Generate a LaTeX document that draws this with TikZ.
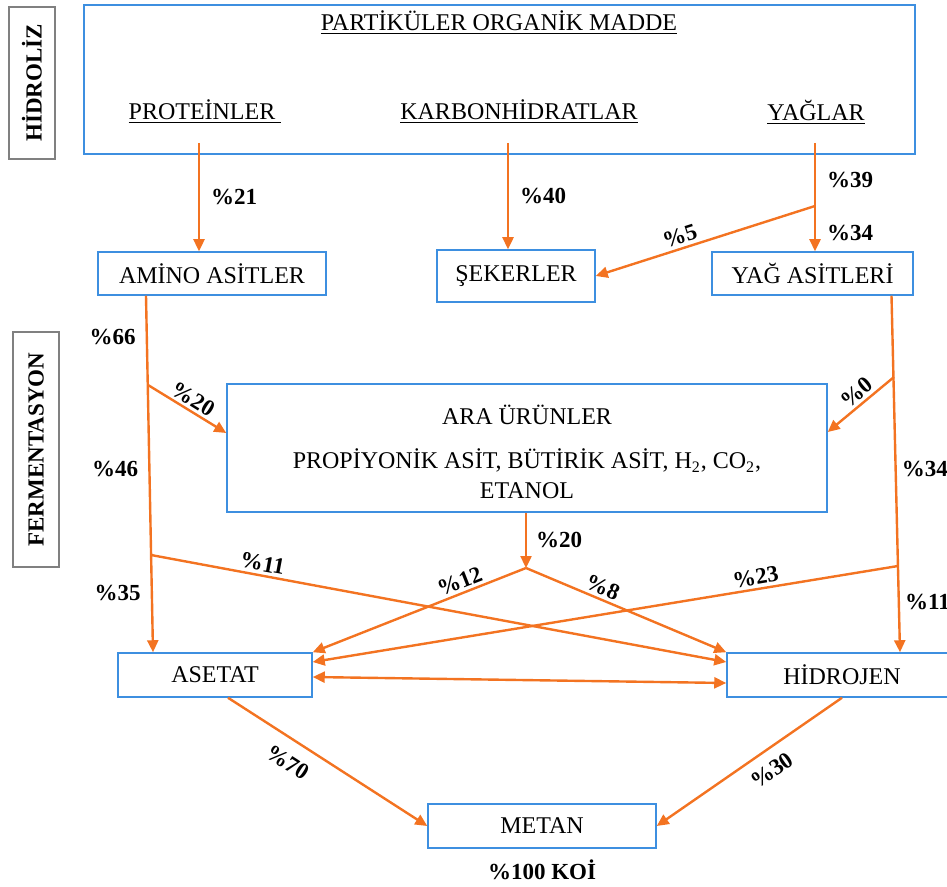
\documentclass[tikz,border=0pt]{standalone}
\usepackage{fontspec}
\setmainfont{Liberation Serif}
\usepackage{tikz}
\usetikzlibrary{positioning,arrows.meta,calc}
\usepackage{xcolor}
\definecolor{boxblue}{HTML}{3D8FE0}
\definecolor{arrorange}{HTML}{F37321}
\definecolor{sidegray}{HTML}{808080}
\newcommand{\diagFont}{\fontsize{12}{15}\selectfont}
\newcommand{\labelFont}{\fontsize{11.5}{13}\selectfont\bfseries}

\begin{document}
\begin{tikzpicture}[
    x=0.5pt, y=-0.5pt,
    boxStyle/.style={
        rectangle, draw=boxblue, line width=0.75pt, inner sep=0pt, font=\diagFont
    },
    sideStyle/.style={
        rectangle, draw=sidegray, line width=0.9pt, inner sep=0pt, rotate=90, font=\labelFont
    },
    headStyle/.style={inner sep=1pt, font=\diagFont},
    labelStyle/.style={inner sep=1.5pt, font=\labelFont},
    arrowStyle/.style={-{Triangle[length=6pt,width=5.5pt]}, line width=1.2pt, draw=arrorange},
    biArrowStyle/.style={arrowStyle, {Triangle[length=6pt,width=5.5pt]}-{Triangle[length=6pt,width=5.5pt]}}
]
    \useasboundingbox (0,0) rectangle (947,887);
    \clip (0,0) rectangle (947,887);

    % Side titles
    \node[sideStyle, minimum width=76pt, minimum height=23pt] (hidroliz) at (32,83) {HİDROLİZ};
    \node[sideStyle, minimum width=117.5pt, minimum height=23pt] (ferment) at (36,449.5) {FERMENTASYON};

    % Hydrolysis
    \node[boxStyle, minimum width=415.5pt, minimum height=74.5pt] (organik) at (499.5,79.5) {};
    \node[headStyle] (baslik) at (499,23) {\underline{PARTİKÜLER ORGANİK MADDE}};
    \node[headStyle] (protein) at (205,112) {\underline{PROTEİNLER\ }};
    \node[headStyle] (karbon) at (519,112) {\underline{KARBONHİDRATLAR}};
    \node[headStyle] (yaglar) at (816,112) {\underline{YAĞLAR}};

    \node[boxStyle, minimum width=114pt, minimum height=21.5pt] (amino) at (212,273.5) {AMİNO ASİTLER};
    \node[boxStyle, minimum width=79pt, minimum height=26pt] (seker) at (516,276) {ŞEKERLER};
    \node[boxStyle, minimum width=100.5pt, minimum height=21.5pt] (yagas) at (812.5,273.5) {YAĞ ASİTLERİ};

    % Fermentation
    \node[boxStyle, minimum width=300pt, minimum height=64pt, align=center] (ara) at (527,448) {
        \rule{0pt}{14pt}ARA ÜRÜNLER\\[7pt]
        PROPİYONİK ASİT, BÜTİRİK ASİT, H\textsubscript{2}, CO\textsubscript{2},\\
        ETANOL
    };
    \node[boxStyle, minimum width=97pt, minimum height=22pt] (asetat) at (215,675) {ASETAT};
    \node[boxStyle, minimum width=115pt, minimum height=22pt] (hid) at (842,675) {HİDROJEN};
    \node[boxStyle, minimum width=114pt, minimum height=22pt] (metan) at (542,826) {METAN};
    \node[labelStyle, below=4pt of metan] (koi) {\%100 KOİ};

    % Junctions
    \coordinate (pOut) at (199,143);
    \coordinate (kOut) at (508,143);
    \coordinate (yOut) at (815,143);
    \coordinate (ySplit) at (815,206);
    \coordinate (aSplit1) at (148,385);
    \coordinate (aSplit2) at (151,555);
    \coordinate (araJ) at (526,568);
    \coordinate (yaSplit1) at (894,377);
    \coordinate (yaSplit2) at (898,566);

    % Arrows
    \draw[arrowStyle] (pOut) -- node[labelStyle, right=4pt] {\%21} (pOut |- amino.north);
    \draw[arrowStyle] (kOut) -- node[labelStyle, right=4pt] {\%40} (kOut |- seker.north);
    \draw[arrowStyle] (yOut) -- node[labelStyle, pos=0.34, right=4pt] {\%39}
        node[labelStyle, pos=0.83, right=4pt] {\%34} (yOut |- yagas.north);
    \draw[arrowStyle] (ySplit) -- node[labelStyle, pos=0.6, sloped, above] {\%5} (seker.east);

    \draw[arrowStyle] ([xshift=-33pt]amino.south) -- node[labelStyle, pos=0.115, left=3.5pt] {\%66}
        node[labelStyle, pos=0.485, left=3.5pt] {\%46}
        node[labelStyle, pos=0.834, left=3.5pt] {\%35} ([xshift=-31pt]asetat.north);
    \draw[arrowStyle] (aSplit1) -- node[labelStyle, sloped, above] {\%20} ([yshift=7.5pt]ara.west);
    \draw[arrowStyle] (aSplit2) -- node[labelStyle, pos=0.19, sloped, above] {\%11} ([yshift=6.5pt]hid.west);

    \draw[arrowStyle] ([xshift=-0.5pt]ara.south) -- node[labelStyle, right=3pt] {\%20} (araJ);
    \draw[arrowStyle] (araJ) -- node[labelStyle, pos=0.29, sloped, above] {\%12} (asetat.north east);
    \draw[arrowStyle] (araJ) -- node[labelStyle, pos=0.36, sloped, above] {\%8} (hid.north west);

    \draw[arrowStyle] ([xshift=39.5pt]yagas.south) -- node[labelStyle, pos=0.485, right=1pt] {\%34}
        node[labelStyle, pos=0.86, right=1pt] {\%11} ([xshift=29pt]hid.north);
    \draw[arrowStyle] (yaSplit1) -- node[labelStyle, pos=0.45, sloped, above] {\%0} ([yshift=8pt]ara.east);
    \draw[arrowStyle] (yaSplit2) -- node[labelStyle, pos=0.24, sloped, above] {\%23} ([yshift=6.5pt]asetat.east);

    \draw[biArrowStyle] ([yshift=-1pt]asetat.east) -- ([yshift=-4pt]hid.west);

    \draw[arrowStyle] ([xshift=6.5pt]asetat.south) -- node[labelStyle, pos=0.36, sloped, below=5pt] {\%70} (metan.west);
    \draw[arrowStyle] (hid.south) -- node[labelStyle, pos=0.44, sloped, below=4pt] {\%30} (metan.east);
\end{tikzpicture}
\end{document}
